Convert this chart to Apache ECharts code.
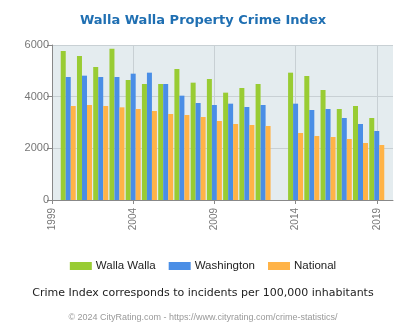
<!DOCTYPE html>
<html>
<head>
<meta charset="utf-8">
<script src="https://cdn.jsdelivr.net/npm/echarts@6/dist/echarts.min.js"></script>
<style>html,body{margin:0;padding:0;background:#fff;}#c{width:406px;height:330px;}</style>
</head>
<body>
<div id="c"></div>
<script>
var years = ['1999','2000','2001','2002','2003','2004','2005','2006','2007','2008','2009','2010','2011','2012','2013','2014','2015','2016','2017','2018','2019','2020'];
var wallaWalla = [null,5768,5574,5148,5858,4645,4490,4490,5071,4542,4684,4155,4335,4490,null,4929,4800,4258,3523,3639,3174,null];
var washington = [null,4761,4813,4761,4761,4890,4929,4490,4039,3755,3677,3729,3600,3677,null,3729,3484,3523,3174,2942,2671,null];
var national   = [null,3639,3677,3639,3587,3523,3445,3329,3290,3213,3058,2942,2903,2865,null,2594,2477,2439,2361,2206,2129,null];
var yTicks = [0, 2000, 4000, 6000];

var chart = echarts.init(document.getElementById('c'), null, {renderer:'canvas'});
chart.setOption({
  animation: false,
  backgroundColor: '#ffffff',
  title: [{
    text: 'Walla Walla Property Crime Index',
    left: 'center', top: 9,
    textStyle: {fontFamily: 'DejaVu Sans', fontSize: 13, fontWeight: 'bold', color: '#1f6fb2'}
  }, {
    text: 'Crime Index corresponds to incidents per 100,000 inhabitants',
    left: 'center', top: 283,
    textStyle: {fontFamily: 'DejaVu Sans', fontSize: 11, fontWeight: 'normal', color: '#222'}
  }, {
    text: '© 2024 CityRating.com - https://www.cityrating.com/crime-statistics/',
    left: 'center', top: 308,
    textStyle: {fontFamily: 'Liberation Sans', fontSize: 9, fontWeight: 'normal', color: '#999'}
  }],
  legend: {
    top: 255, left: 'center',
    itemWidth: 22, itemHeight: 8, itemGap: 13,
    icon: 'rect',
    textStyle: {fontFamily: 'Liberation Sans', fontSize: 11.5, color: '#222', padding: [0,0,0,-1]},
    data: ['Walla Walla', 'Washington', 'National']
  },
  grid: {left: 52, right: 13, top: 45, bottom: 130, containLabel: false,
         show: true, backgroundColor: '#e4ecef', borderWidth: 0},
  xAxis: {
    type: 'category', data: years, boundaryGap: false,
    axisLine: {lineStyle: {color: '#888', width: 1}},
    axisTick: {show: true, interval: 4, length: 4, lineStyle: {color: '#888'}},
    axisLabel: {interval: 4, rotate: 90, fontFamily: 'Liberation Sans', fontSize: 10, color: '#777', margin: 8},
    splitLine: {show: true, interval: 4, lineStyle: {color: '#c8d0d4', width: 1}}
  },
  yAxis: {
    type: 'value', min: yTicks[0], max: yTicks[yTicks.length-1], interval: 2000,
    axisLine: {show: true, lineStyle: {color: '#888', width: 1}},
    axisTick: {show: true, length: 5, lineStyle: {color: '#888'}},
    axisLabel: {fontFamily: 'Liberation Sans', fontSize: 11, color: '#777', margin: 3,
                formatter: function (v) { return String(v); }},
    splitLine: {show: true, lineStyle: {color: '#c8d0d4', width: 1}}
  },
  series: [
    {name: 'Walla Walla', type: 'bar', data: wallaWalla, barWidth: 5, barGap: '0%', itemStyle: {color: '#99cc33'}},
    {name: 'Washington', type: 'bar', data: washington, barWidth: 5, barGap: '0%', itemStyle: {color: '#4a8ee6'}},
    {name: 'National', type: 'bar', data: national, barWidth: 5, barGap: '0%', itemStyle: {color: '#ffb347'}}
  ]
});
</script>
</body>
</html>
